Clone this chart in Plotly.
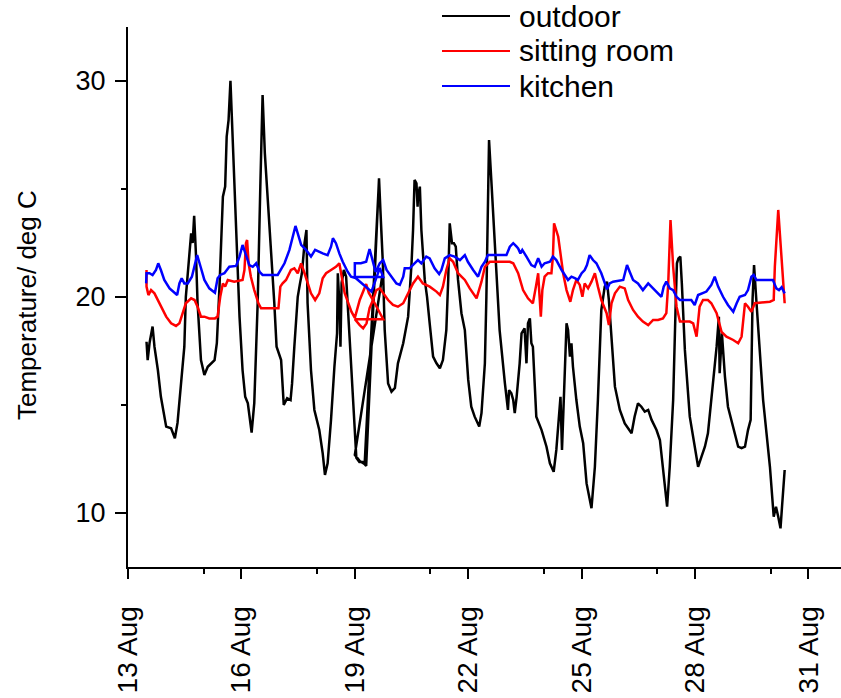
import pandas as pd
import plotly.graph_objects as go

# Logged temperatures, time given as decimal day of August
outdoor_day = [
    13.49, 13.52, 13.57, 13.65, 13.70, 13.79, 13.87, 14.01, 14.14, 14.24,
    14.31, 14.40, 14.49, 14.53, 14.62, 14.67, 14.71, 14.75, 14.80, 14.84,
    14.93, 15.02, 15.11, 15.20, 15.29, 15.35, 15.42, 15.51, 15.57, 15.61,
    15.66, 15.71, 15.77, 15.86, 15.95, 16.03, 16.10, 16.17, 16.27, 16.34,
    16.43, 16.50, 16.56, 16.62, 16.74, 16.87, 16.93, 17.01, 17.05, 17.12,
    17.21, 17.30, 17.34, 17.40, 17.49, 17.55, 17.60, 17.67, 17.72, 17.75,
    17.84, 17.93, 18.06, 18.15, 18.21, 18.28, 18.37, 18.46, 18.53, 18.55,
    18.59, 18.62, 18.65, 18.71, 18.77, 18.86, 18.94, 19.04, 19.12, 19.21,
    19.30, 19.64, 19.70, 19.75, 19.00, 19.13, 19.26, 19.64, 19.74, 19.79,
    19.88, 19.97, 20.06, 20.14, 20.28, 20.41, 20.50, 20.54, 20.58, 20.63,
    20.66, 20.67, 20.72, 20.76, 20.85, 20.91, 20.98, 21.07, 21.16, 21.25,
    21.33, 21.42, 21.47, 21.51, 21.57, 21.62, 21.67, 21.73, 21.82, 21.91,
    22.00, 22.08, 22.17, 22.29, 22.35, 22.44, 22.48, 22.52, 22.55, 22.61,
    22.70, 22.83, 22.97, 23.05, 23.08, 23.14, 23.19, 23.23, 23.28, 23.36,
    23.41, 23.49, 23.54, 23.58, 23.63, 23.67, 23.71, 23.76, 23.80, 23.94,
    24.07, 24.16, 24.26, 24.33, 24.40, 24.44, 24.48, 24.51, 24.55, 24.60,
    24.64, 24.69, 24.73,
    24.77, 24.86, 24.95, 25.04, 25.13, 25.26, 25.35,
    25.43, 25.52, 25.61, 25.67, 25.72, 25.79, 25.88, 26.01, 26.14, 26.32,
    26.40, 26.49, 26.58, 26.67, 26.76, 26.85, 26.98, 27.07, 27.15, 27.26,
    27.33, 27.42, 27.49, 27.52, 27.56, 27.61, 27.65, 27.73, 27.86, 27.99,
    28.08, 28.17, 28.26, 28.34, 28.43, 28.50, 28.57, 28.63, 28.65, 28.71,
    28.79, 28.87, 28.96, 29.05, 29.14, 29.23, 29.32, 29.40, 29.47, 29.52,
    29.56, 29.62, 29.71, 29.80, 29.89, 29.98, 30.08, 30.14, 30.20, 30.26,
    30.30, 30.37,
]
outdoor_temp = [
    17.93, 17.08, 17.87, 18.63, 17.70, 16.62, 15.38, 14.00, 13.92, 13.46,
    14.17, 15.85, 17.70, 20.01, 21.87, 22.95, 22.50, 23.76, 21.87, 19.72,
    17.08, 16.39, 16.77, 16.93, 17.08, 17.86, 20.48, 24.64, 25.11, 27.42,
    28.19, 30.01, 27.42, 23.56, 19.09, 16.62, 15.38, 15.08, 13.72, 15.09,
    19.72, 25.11, 29.35, 26.65, 23.56, 19.72, 17.70, 17.24, 17.08, 15.00,
    15.31, 15.23, 16.00, 17.70, 20.01, 20.63, 21.10, 22.49, 23.10, 19.72,
    16.62, 14.77, 13.84, 12.76, 11.76, 12.30, 14.31, 16.77, 18.32, 21.10,
    19.71, 17.70, 20.65, 21.25, 20.94, 18.16, 15.85, 12.55, 12.36, 12.36,
    12.18, 25.50, 23.10, 21.25, 12.69, 12.41, 12.27, 25.42, 21.62, 18.47,
    16.00, 15.62, 15.79, 16.93, 17.86, 19.09, 21.56, 23.10, 25.42, 25.26,
    24.18, 24.64, 25.11, 23.10, 20.79, 20.01, 18.78, 17.24, 16.93, 16.70,
    17.08, 18.47, 20.79, 23.41, 22.49, 22.49, 22.33, 20.79, 19.25, 18.47,
    16.16, 14.92, 14.46, 14.00, 14.62, 16.93, 20.01, 23.87, 27.27, 25.42,
    22.33, 18.47, 16.00, 14.77, 15.69, 15.54, 15.23, 14.62, 15.38, 16.93,
    18.32, 18.55, 16.93, 18.78, 19.01, 17.86, 17.70, 16.16, 14.46, 13.84,
    13.07, 12.30, 11.91, 12.92, 14.62, 15.38, 12.92, 14.62, 16.00, 18.78,
    18.47, 17.24, 17.86,
    16.77, 15.23, 14.00, 13.23, 11.37, 10.22, 12.14,
    15.23, 19.40, 20.48, 20.71, 19.86, 18.01, 15.85, 14.77, 14.15, 13.69,
    14.46, 15.08, 14.92, 14.69, 14.77, 14.31, 13.84, 13.38, 12.14, 10.29,
    12.14, 15.23, 19.86, 21.56, 21.79, 21.87, 20.63, 17.55, 14.46, 13.07,
    12.14, 12.61, 13.07, 13.69, 15.23, 16.47, 17.70, 19.09, 16.47, 18.32,
    16.31, 14.92, 14.31, 13.69, 13.07, 13.00, 13.07, 13.84, 14.31, 19.86,
    21.48, 19.86, 17.55, 15.23, 13.69, 12.14, 9.83, 10.29, 9.83, 9.29,
    10.29, 11.99,
]

sitting_day = [
    13.49, 13.49, 13.54, 13.61, 13.70, 13.79, 13.87, 14.01, 14.14, 14.27,
    14.36, 14.45, 14.53, 14.67, 14.76, 14.84, 14.93, 15.02, 15.15, 15.30,
    15.37, 15.44, 15.51, 15.57, 15.64, 15.81, 16.03, 16.08, 16.12, 16.15,
    16.19, 16.25, 16.34, 16.45, 16.52, 16.98, 17.03, 17.09, 17.18, 17.31,
    17.40, 17.49, 17.58, 17.67, 17.75, 17.84, 17.95, 18.06, 18.15, 18.24,
    18.37, 18.50, 18.59, 18.73, 18.91, 19.00, 19.13, 19.30, 19.37, 19.48,
    19.75, 19.00, 19.13, 19.22, 19.31, 19.39, 19.48, 19.57, 19.66, 19.75,
    19.88, 20.01, 20.14, 20.28, 20.41, 20.54, 20.67, 20.80, 20.98, 21.16,
    21.25, 21.33, 21.42, 21.51, 21.60, 21.73, 21.91, 22.04, 22.22, 22.35,
    22.44, 22.57, 23.10, 23.19, 23.32, 23.45, 23.58, 23.71, 23.79, 23.85,
    23.87, 23.92, 23.96, 24.02, 24.11, 24.20, 24.24, 24.27, 24.38, 24.44,
    24.51, 24.60, 24.70,
    24.77, 24.86, 24.95, 25.02, 25.08, 25.17, 25.26, 25.35, 25.43, 25.52,
    25.66, 25.72, 25.79, 25.88, 26.01, 26.14, 26.23, 26.36, 26.49, 26.62,
    26.76, 26.89, 27.02, 27.15, 27.24, 27.29, 27.35, 27.42, 27.51, 27.60,
    27.86, 27.95, 28.04, 28.12, 28.21, 28.34, 28.43, 28.57, 28.70, 28.83,
    29.01, 29.14, 29.23, 29.32, 29.40, 29.49, 29.58, 29.98, 30.08, 30.11,
    30.20, 30.29, 30.37,
]
sitting_temp = [
    21.25, 20.48, 20.09, 20.32, 20.17, 19.86, 19.55, 19.09, 18.78, 18.66,
    18.78, 19.25, 19.71, 19.94, 19.86, 19.55, 19.09, 19.09, 19.01, 19.01,
    19.09, 20.01, 20.63, 20.48, 20.79, 20.71, 20.79, 21.25, 22.49, 22.64,
    21.56, 20.94, 20.32, 19.71, 19.48, 19.48, 20.48, 20.63, 20.79, 21.25,
    21.33, 21.10, 21.56, 21.10, 20.63, 20.17, 19.86, 20.17, 20.87, 21.10,
    21.25, 21.40, 21.56, 20.19, 19.32, 19.03, 19.86, 20.60, 20.19, 19.86,
    18.97, 18.97, 18.70, 18.55, 18.78, 19.49, 19.86, 20.32, 20.40, 20.17,
    19.86, 19.63, 19.55, 19.71, 20.17, 20.63, 20.94, 20.63, 20.48, 20.25,
    20.09, 20.48, 21.25, 21.79, 21.63, 21.10, 20.79, 20.40, 19.94, 20.71,
    21.40, 21.63, 21.63, 21.56, 21.10, 20.32, 19.94, 19.71, 20.48, 21.10,
    20.48, 19.09, 20.32, 20.94, 21.10, 21.10, 21.87, 23.41, 22.79, 21.87,
    21.10, 20.32, 19.78,
    20.32, 20.79, 20.56, 20.01, 20.63, 20.40, 20.71, 21.10, 20.48, 19.86,
    19.25, 18.70, 19.71, 20.17, 20.48, 20.40, 19.86, 19.40, 19.09, 18.86,
    18.70, 18.94, 18.94, 19.01, 19.25, 20.63, 23.56, 21.40, 19.55, 18.86,
    18.86, 18.78, 18.16, 19.55, 19.86, 19.86, 19.71, 19.25, 18.39, 18.16,
    18.01, 17.86, 18.16, 19.71, 19.55, 19.32, 19.71, 19.78, 19.86, 21.40,
    24.03, 21.71, 19.71,
]

kitchen_day = [
    13.48, 13.49, 13.57, 13.65, 13.74, 13.80, 13.87, 13.96, 14.10, 14.23,
    14.30, 14.36, 14.42, 14.49, 14.58, 14.69, 14.76, 14.83, 14.92, 15.02,
    15.15, 15.30, 15.37, 15.44, 15.55, 15.68, 15.86, 15.95, 16.03, 16.12,
    16.21, 16.30, 16.39, 16.48, 16.56, 16.96, 17.03, 17.14, 17.27, 17.36,
    17.43, 17.49, 17.58, 17.71, 17.84, 17.95, 18.04, 18.15, 18.28, 18.37,
    18.42, 18.50, 18.59, 18.68, 18.81, 18.90, 19.02, 19.44, 19.66, 19.75, 19.00,
    19.00, 19.16, 19.30, 19.39, 19.47, 19.55, 19.66, 19.75, 19.84, 19.97,
    20.10, 20.19, 20.28, 20.32, 20.45, 20.58, 20.67, 20.76, 20.89, 20.98,
    21.11, 21.23, 21.29, 21.38, 21.51, 21.64, 21.78, 21.91, 21.99, 22.13,
    22.26, 22.35, 22.44, 22.52, 23.01, 23.10, 23.19, 23.28, 23.32, 23.38,
    23.43, 23.54, 23.67, 23.76, 23.85, 23.94, 24.02, 24.16, 24.24, 24.33,
    24.47, 24.64, 24.73, 24.82, 24.90, 25.00, 25.08, 25.14, 25.21, 25.30,
    25.39, 25.52, 25.61, 25.67, 25.74, 25.83, 26.10, 26.20, 26.27, 26.36,
    26.49, 26.62, 26.76, 26.85, 26.98, 27.11, 27.17, 27.24, 27.33, 27.42,
    27.51, 27.60, 27.90, 27.99, 28.08, 28.17, 28.30, 28.43, 28.52, 28.61,
    28.74, 28.87, 29.01, 29.10, 29.18, 29.32, 29.40, 29.49, 29.55, 29.62,
    30.06, 30.15, 30.22, 30.29, 30.37,
]
kitchen_temp = [
    20.63, 21.10, 21.10, 21.02, 21.25, 21.56, 21.25, 20.79, 20.40, 20.17,
    20.09, 20.63, 20.87, 20.63, 20.63, 20.94, 21.40, 21.94, 21.40, 20.79,
    20.40, 20.20, 20.87, 21.02, 21.10, 21.40, 21.44, 21.87, 22.41, 21.94,
    21.48, 21.40, 21.56, 21.17, 21.02, 21.02, 21.25, 21.56, 22.18, 22.79,
    23.29, 22.95, 22.41, 22.18, 21.87, 22.18, 22.10, 22.02, 21.94, 22.33,
    22.72, 22.49, 22.02, 21.63, 21.17, 20.94, 20.88, 20.25, 21.34, 20.93, 20.93,
    21.56, 21.56, 21.63, 22.22, 21.62, 21.16, 21.56, 21.71, 21.25, 20.94,
    20.63, 20.56, 20.94, 21.33, 21.33, 21.56, 21.71, 21.56, 21.87, 21.79,
    21.33, 21.06, 21.25, 21.79, 21.94, 21.87, 21.71, 21.94, 21.63, 21.25,
    20.94, 21.40, 21.63, 21.94, 21.94, 22.33, 22.49, 22.33, 22.25, 22.02,
    22.18, 21.87, 21.48, 21.40, 21.79, 21.40, 21.56, 21.63, 21.87, 21.71,
    21.25, 20.79, 20.94, 20.87, 20.79, 21.10, 21.25, 21.48, 21.94, 21.71,
    21.56, 21.10, 20.71, 20.36, 20.63, 20.71, 20.79, 21.48, 21.17, 20.79,
    20.63, 20.32, 20.63, 20.48, 20.25, 20.01, 20.48, 20.71, 20.40, 20.32,
    20.01, 19.86, 19.86, 19.63, 20.09, 20.17, 20.25, 20.56, 20.94, 20.48,
    20.01, 19.63, 19.32, 19.71, 20.01, 20.09, 20.32, 20.94, 21.02, 20.79,
    20.79, 20.40, 20.32, 20.45, 20.17,
]

series_names = ["outdoor", "sitting room", "kitchen"]
series_colors = ["#000000", "#ff0000", "#0000ff"]

tick_days = [13, 16, 19, 22, 25, 28, 31]
tick_labels = ["13 Aug", "16 Aug", "19 Aug", "22 Aug", "25 Aug", "28 Aug", "31 Aug"]
minor_tick_days = [15, 18, 21, 24, 27, 30]
y_ticks = [10, 20, 30]
y_minor_ticks = [15, 25]
x_range_days = [13.0, 31.86]
y_range = [7.5, 32.5]

for d, t in [(outdoor_day, outdoor_temp), (sitting_day, sitting_temp),
             (kitchen_day, kitchen_temp)]:
    assert len(d) == len(t), (len(d), len(t))

BASE = pd.Timestamp("2010-08-01")


def to_time(days):
    return [BASE + pd.Timedelta(days=float(d) - 1.0) for d in days]


FONT = "Liberation Sans, Arial, sans-serif"
W, H = 841, 698
ML, MR, MT, MB = 128, 0, 27, 131

fig = go.Figure()
for name, color, days, temps in zip(
        series_names, series_colors,
        [outdoor_day, sitting_day, kitchen_day],
        [outdoor_temp, sitting_temp, kitchen_temp]):
    fig.add_trace(go.Scatter(
        x=to_time(days), y=temps, mode="lines", name=name,
        line=dict(color=color, width=2.5), showlegend=False,
    ))

# Legend drawn as line samples with labels
plot_w = W - ML - MR
plot_h = H - MT - MB


def px_x(px):
    return (px - ML) / plot_w


def px_y(py):
    return 1 - (py - MT) / plot_h


legend_rows = [16, 51, 86]
for name, color, row in zip(series_names, series_colors, legend_rows):
    fig.add_shape(type="line", xref="paper", yref="paper",
                  x0=px_x(442), x1=px_x(510), y0=px_y(row), y1=px_y(row),
                  line=dict(color=color, width=2))
    fig.add_annotation(xref="paper", yref="paper", x=px_x(517), y=px_y(row),
                       text=name, showarrow=False, xanchor="left",
                       yanchor="middle", font=dict(family=FONT, size=30, color="black"))

fig.add_annotation(xref="paper", yref="paper", x=0, y=0.5, xshift=-101, yshift=-8,
                   text="Temperature/ deg C", textangle=-90, showarrow=False,
                   xanchor="center", yanchor="middle",
                   font=dict(family=FONT, size=26, color="black"))

fig.update_layout(
    width=W, height=H,
    margin=dict(l=ML, r=MR, t=MT, b=MB, pad=0),
    paper_bgcolor="white", plot_bgcolor="white",
    font=dict(family=FONT, color="black"),
    xaxis=dict(
        type="date",
        range=to_time(x_range_days),
        tickmode="array", tickvals=to_time(tick_days), ticktext=tick_labels,
        tickangle=-90, ticks="outside", ticklen=10, tickwidth=2, tickcolor="black",
        tickfont=dict(family=FONT, size=28, color="black"),
        showline=True, linewidth=2, linecolor="black",
        showgrid=False, zeroline=False,
        minor=dict(tickmode="array", tickvals=to_time(minor_tick_days),
                   ticks="outside", ticklen=5, tickwidth=2, tickcolor="black",
                   showgrid=False),
        ticklabelstandoff=16,
    ),
    yaxis=dict(
        range=y_range,
        tickmode="array", tickvals=y_ticks,
        ticks="outside", ticklen=11, tickwidth=2, tickcolor="black",
        tickfont=dict(family=FONT, size=27, color="black"),
        showline=True, linewidth=2, linecolor="black",
        showgrid=False, zeroline=False,
        minor=dict(tickmode="array", tickvals=y_minor_ticks,
                   ticks="outside", ticklen=5, tickwidth=2, tickcolor="black",
                   showgrid=False),
        ticklabelstandoff=4,
    ),
)

fig.write_html("out.html")
